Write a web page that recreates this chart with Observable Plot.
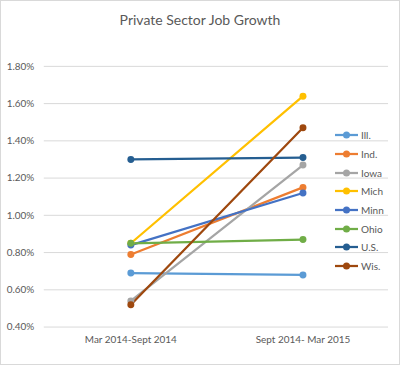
<!DOCTYPE html>
<html>
<head>
<meta charset="utf-8">
<script src="https://cdn.jsdelivr.net/npm/d3@7"></script>
<script src="https://cdn.jsdelivr.net/npm/@observablehq/plot@0.6"></script>
<style>
  html, body { margin: 0; padding: 0; background: #fff; }
  #wrap { position: relative; width: 400px; height: 365px; box-sizing: border-box; border: 1px solid #d9d9d9; font-family: Lato, "Open Sans", sans-serif; overflow: hidden; }
  #title { position: absolute; left: 0; top: 10px; width: 100%; text-align: center; font-size: 14px; color: #595959; }
  #chart { position: absolute; left: -1px; top: 39px; }
  #legend { position: absolute; left: 333px; top: 125px; font-size: 10px; color: #595959; }
  .li { height: 18.7px; display: flex; align-items: center; }
  .li svg { margin-right: 2px; }
</style>
</head>
<body>
<div id="wrap">
  <div id="title">Private Sector Job Growth</div>
  <div id="chart"></div>
  <div id="legend"></div>
</div>
<script>
const periods = ["Mar 2014-Sept 2014", "Sept 2014- Mar 2015"];
const states = ["Ill.", "Ind.", "Iowa", "Mich", "Minn", "Ohio", "U.S.", "Wis."];
const firstPeriod = [0.69, 0.79, 0.54, 0.85, 0.84, 0.85, 1.30, 0.52];
const secondPeriod = [0.68, 1.15, 1.27, 1.64, 1.12, 0.87, 1.31, 1.47];
const colors = ["#5B9BD5", "#ED7D31", "#A5A5A5", "#FFC000", "#4472C4", "#70AD47", "#255E91", "#9E480E"];
const yTicks = [0.4, 0.6, 0.8, 1.0, 1.2, 1.4, 1.6, 1.8];

const data = [];
states.forEach((s, i) => {
  data.push({state: s, period: periods[0], value: firstPeriod[i]});
  data.push({state: s, period: periods[1], value: secondPeriod[i]});
});

const chart = Plot.plot({
  width: 401,
  height: 326,
  marginLeft: 44,
  marginRight: 11,
  marginTop: 26,
  marginBottom: 38,
  style: {fontFamily: "Lato, 'Open Sans', sans-serif", fontSize: "10px", color: "#595959", background: "transparent"},
  x: {type: "point", domain: periods, padding: 0.5, label: null},
  y: {domain: [0.4, 1.8], ticks: yTicks, label: null},
  color: {domain: states, range: colors},
  marks: [
    Plot.gridY(yTicks, {stroke: "#d9d9d9", strokeOpacity: 1, strokeWidth: 1}),
    Plot.axisY(yTicks, {tickSize: 0, tickPadding: 10, tickFormat: d => d.toFixed(2) + "%", fill: "#595959", label: null}),
    Plot.axisX({tickSize: 0, tickPadding: 9, fill: "#595959", label: null}),
    Plot.line(data, {x: "period", y: "value", z: "state", stroke: "state", strokeWidth: 2.25}),
    Plot.dot(data, {x: "period", y: "value", fill: "state", r: 3.5})
  ]
});
document.getElementById("chart").appendChild(chart);

const legend = document.getElementById("legend");
states.forEach((s, i) => {
  const row = document.createElement("div");
  row.className = "li";
  row.innerHTML = `<svg width="25" height="8"><line x1="1" x2="24" y1="4" y2="4" stroke="${colors[i]}" stroke-width="2.25"/><circle cx="12.5" cy="4" r="3.5" fill="${colors[i]}"/></svg><span>${s}</span>`;
  legend.appendChild(row);
});
</script>
</body>
</html>
